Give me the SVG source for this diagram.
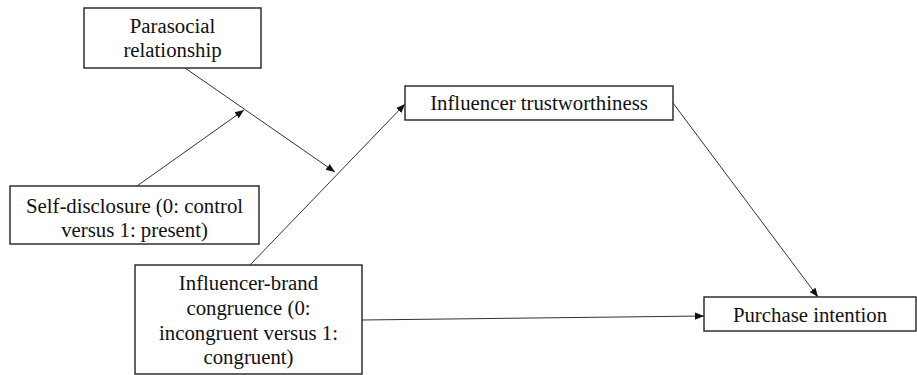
<svg xmlns="http://www.w3.org/2000/svg" width="917" height="375" viewBox="0 0 917 375">
<style>
.box{fill:#fff;stroke:#222;stroke-width:1.4}
.t{font-family:"Liberation Serif","Times New Roman",serif;font-size:20.8px;fill:#111;text-anchor:middle}
.c{stroke:#333;stroke-width:1;fill:none;marker-end:url(#ah)}
</style>
<defs>
<marker id="ah" viewBox="0 0 10 10" refX="10" refY="5" markerWidth="9" markerHeight="9" markerUnits="userSpaceOnUse" orient="auto">
<path d="M0,1 L10,5 L0,9 z" fill="#111"/>
</marker>
</defs>
<rect width="917" height="375" fill="#fff"/>
<g id="connectors">
<line class="c" x1="137" y1="186" x2="244" y2="110"/>
<line class="c" x1="185" y1="68" x2="335" y2="172"/>
<line class="c" x1="250" y1="265" x2="405" y2="104"/>
<line class="c" x1="673" y1="103" x2="818" y2="297"/>
<line class="c" x1="362" y1="320" x2="704" y2="316"/>
</g>
<g id="parasocial">
<rect class="box" x="84" y="8" width="177" height="60"/>
<text class="t" x="172.5" y="33">Parasocial</text>
<text class="t" x="172.5" y="57">relationship</text>
</g>
<g id="trust">
<rect class="box" x="405" y="86" width="268" height="34"/>
<text class="t" x="539" y="110">Influencer trustworthiness</text>
</g>
<g id="selfdisclosure">
<rect class="box" x="10" y="186" width="249" height="58"/>
<text class="t" x="134.5" y="213">Self-disclosure (0: control</text>
<text class="t" x="134.5" y="237">versus 1: present)</text>
</g>
<g id="congruence">
<rect class="box" x="135" y="265" width="227" height="109"/>
<text class="t" x="248.5" y="290">Influencer-brand</text>
<text class="t" x="248.5" y="315">congruence (0:</text>
<text class="t" x="248.5" y="340">incongruent versus 1:</text>
<text class="t" x="248.5" y="364">congruent)</text>
</g>
<g id="purchase">
<rect class="box" x="704" y="297" width="212" height="34"/>
<text class="t" x="810" y="322">Purchase intention</text>
</g>
</svg>
